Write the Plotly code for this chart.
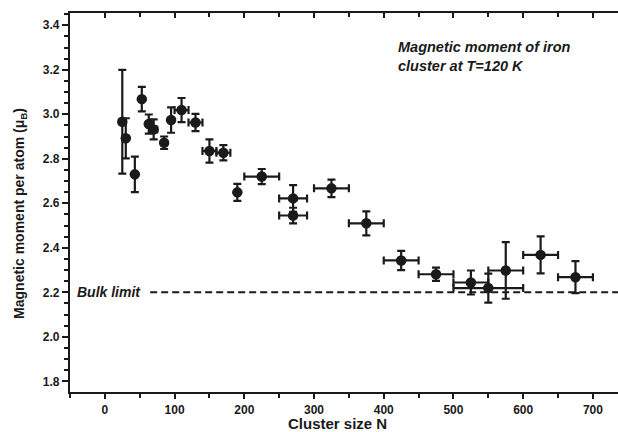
import plotly.graph_objects as go

# Data
cluster_size = [25, 30, 43, 53, 63, 70, 85, 95, 110, 130, 150, 170, 190, 225,
                270, 270, 325, 375, 425, 475, 525, 550, 575, 625, 675]
moment = [2.966, 2.892, 2.730, 3.068, 2.956, 2.932, 2.872, 2.974, 3.019, 2.963,
          2.835, 2.827, 2.649, 2.720, 2.622, 2.545, 2.667, 2.510, 2.343, 2.281,
          2.244, 2.219, 2.298, 2.368, 2.268]
moment_err = [0.233, 0.09, 0.08, 0.055, 0.043, 0.045, 0.028, 0.057, 0.054, 0.039,
              0.052, 0.034, 0.038, 0.034, 0.06, 0.035, 0.039, 0.054, 0.043, 0.03,
              0.054, 0.065, 0.127, 0.083, 0.072]
size_err = [0, 0, 0, 0, 0, 5, 0, 0, 10, 10, 10, 10, 0, 25, 20, 20, 25, 25, 25,
            25, 25, 50, 25, 25, 25]
bulk_limit = 2.2
bulk_line_x = [65, 740]

x_tickvals = [0, 100, 200, 300, 400, 500, 600, 700]
x_ticktext = ["<b>0</b>", "<b>100</b>", "<b>200</b>", "<b>300</b>", "<b>400</b>",
              "<b>500</b>", "<b>600</b>", "<b>700</b>"]
y_tickvals = [1.8, 2.0, 2.2, 2.4, 2.6, 2.8, 3.0, 3.2, 3.4]
y_ticktext = ["<b>1.8</b>", "<b>2.0</b>", "<b>2.2</b>", "<b>2.4</b>", "<b>2.6</b>",
              "<b>2.8</b>", "<b>3.0</b>", "<b>3.2</b>", "<b>3.4</b>"]

x_range = [-50, 736]
y_range = [1.752, 3.455]

ink = "#1a1a1a"
font_family = "Liberation Sans, Arial, sans-serif"

fig = go.Figure()

fig.add_trace(go.Scatter(
    x=bulk_line_x, y=[bulk_limit, bulk_limit], mode="lines",
    line=dict(color=ink, width=2, dash="7px,4px"),
    showlegend=False, hoverinfo="skip",
))

fig.add_trace(go.Scatter(
    x=cluster_size, y=moment, mode="markers",
    marker=dict(color=ink, size=10.5, symbol="circle"),
    error_y=dict(type="data", array=moment_err, color=ink, thickness=2.2, width=4),
    error_x=dict(type="data", array=size_err, color=ink, thickness=2.2, width=4),
    showlegend=False,
))

# helper trace so the top axis is drawn
fig.add_trace(go.Scatter(x=x_range, y=y_range, xaxis="x2", mode="markers",
                         marker=dict(opacity=0), showlegend=False, hoverinfo="skip"))

fig.add_annotation(
    x=bulk_line_x[0], y=bulk_limit, xref="x", yref="y",
    text="<b><i>Bulk limit</i></b>", showarrow=False,
    xanchor="right", yanchor="middle", xshift=-7,
    font=dict(family=font_family, size=14, color=ink),
)
fig.add_annotation(
    x=0.594, y=0.885, xref="paper", yref="paper",
    text="<b><i>Magnetic moment of iron<br>cluster at T=120 K</i></b>",
    showarrow=False, xanchor="left", yanchor="middle", align="left",
    font=dict(family=font_family, size=14.5, color=ink),
)
fig.add_annotation(
    x=0.489, y=-0.083, xref="paper", yref="paper",
    text="<b>Cluster size N</b>", showarrow=False,
    xanchor="center", yanchor="middle",
    font=dict(family=font_family, size=15, color=ink),
)
fig.add_annotation(
    x=-0.0912, y=0.47, xref="paper", yref="paper",
    text="<b>Magnetic moment per atom (μ<sub>B</sub>)</b>", showarrow=False,
    textangle=-90, xanchor="center", yanchor="middle",
    font=dict(family=font_family, size=14, color=ink),
)

fig.update_layout(
    width=618, height=432,
    margin=dict(l=70, r=0, t=13, b=40),
    plot_bgcolor="white", paper_bgcolor="white",
    font=dict(family=font_family, color=ink),
    xaxis=dict(
        range=x_range, showgrid=False, zeroline=False,
        showline=True, linecolor=ink, linewidth=2.2,
        ticks="outside", ticklen=5, tickwidth=2, tickcolor=ink,
        tickmode="array", tickvals=x_tickvals, ticktext=x_ticktext,
        minor=dict(ticks="outside", ticklen=4, tickwidth=2, tickcolor=ink,
                   tick0=0, dtick=50),
        tickfont=dict(size=12, family=font_family, color=ink),
    ),
    xaxis2=dict(
        range=x_range, overlaying="x", side="top", showgrid=False, zeroline=False,
        showline=True, linecolor=ink, linewidth=2.2,
        ticks="inside", ticklen=5, tickwidth=2, tickcolor=ink,
        tick0=0, dtick=100, showticklabels=False,
        minor=dict(ticks="inside", ticklen=4, tickwidth=2, tickcolor=ink,
                   tick0=0, dtick=50),
    ),
    yaxis=dict(
        range=y_range, showgrid=False, zeroline=False,
        showline=True, linecolor=ink, linewidth=2.2,
        ticks="outside", ticklen=6, tickwidth=2, tickcolor=ink,
        tickmode="array", tickvals=y_tickvals, ticktext=y_ticktext,
        minor=dict(ticks="outside", ticklen=4, tickwidth=2, tickcolor=ink,
                   tick0=1.8, dtick=0.05),
        tickfont=dict(size=12, family=font_family, color=ink),
    ),
)

fig.write_html("out.html")
